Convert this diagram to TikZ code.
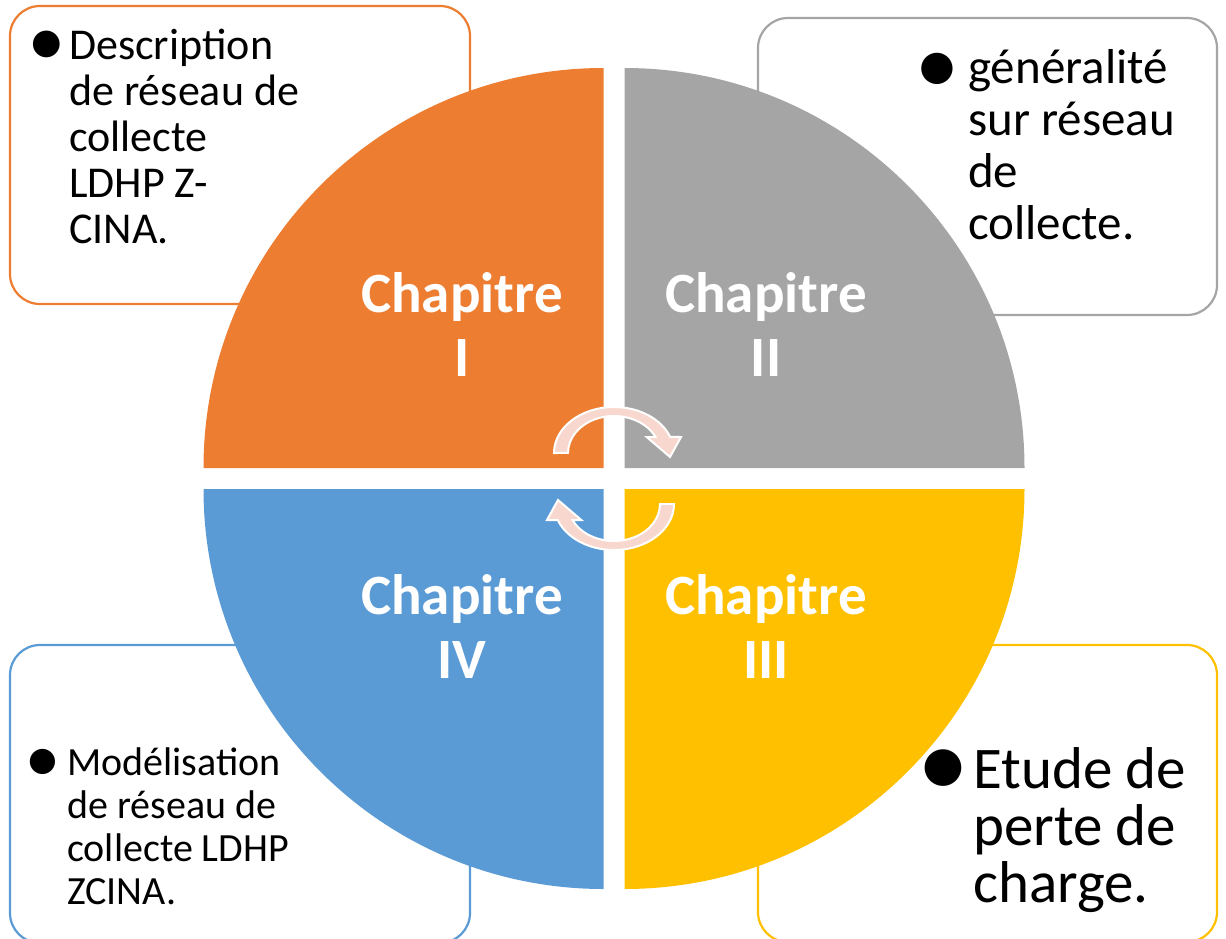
\documentclass[tikz,border=0pt]{standalone}
\usepackage{fontspec}
\setmainfont{Carlito}
\newfontfamily\symfont{DejaVu Sans}

\definecolor{quadorange}{HTML}{ED7D31}
\definecolor{quadgray}{HTML}{A5A5A5}
\definecolor{quadyellow}{HTML}{FFC000}
\definecolor{quadblue}{HTML}{5B9BD5}
\definecolor{arrowpink}{HTML}{F8D8CE}

% stacked lines, baseline of the node = baseline of the first line
\newcommand\boxlines[1]{\vtop{\lineskiplimit=-100pt\relax\halign{##\hfil\cr#1\crcr}}}
\newcommand\chaplines[1]{\vtop{\lineskiplimit=-100pt\relax\halign{\hfil##\hfil\cr#1\crcr}}}

\begin{document}
\begin{tikzpicture}[x=1pt,y=-1pt,
  textbox/.style={draw=#1, line width=2.2pt, fill=white, rounded corners=30pt},
  quadrant/.style={fill=#1},
  arrowstyle/.style={fill=arrowpink, draw=white, line width=2pt, line join=miter},
  chaplabel/.style={text=white, inner sep=0pt, anchor=base,
    font=\bfseries\fontsize{57}{64}\selectfont},
  boxtext/.style={text=black, inner sep=0pt, anchor=base west},
  bullet/.style={text=black, inner sep=0pt, anchor=center},
  cyclearrow/.pic={
    \filldraw[arrowstyle] (-60,0)
      arc[start angle=180, end angle=339.6, x radius=60, y radius=46]
      -- (67,-16) -- (56,4) -- (32.7,-16) -- (41.5,-16)
      arc[start angle=334.4, end angle=180, x radius=46, y radius=37]
      -- cycle;
  }]
\useasboundingbox (0,0) rectangle (1226,939);
\clip (0,0) rectangle (1226,939);

% corner text boxes
\draw[textbox=quadorange] (10,6) rectangle (470,304);
\draw[textbox=quadgray] (758,18) rectangle (1217,315);
\draw[textbox=quadyellow] (758,645) rectangle (1217,942);
\draw[textbox=quadblue] (10,645) rectangle (470,943);

% the four quarter discs
\fill[quadrant=quadorange] (603.5,468) -- ++(-400,0)
  arc[start angle=180, end angle=270, radius=400] -- cycle;
\fill[quadrant=quadgray] (624.5,468) -- ++(0,-400)
  arc[start angle=270, end angle=360, radius=400] -- cycle;
\fill[quadrant=quadyellow] (624.5,489) -- ++(400,0)
  arc[start angle=0, end angle=90, radius=400] -- cycle;
\fill[quadrant=quadblue] (603.5,489) -- ++(0,400)
  arc[start angle=90, end angle=180, radius=400] -- cycle;

% cycle arrows in the middle
\pic (toparrow) at (614,453) {cyclearrow};
\pic[rotate=180] (bottomarrow) at (614,504) {cyclearrow};

% chapter labels
\node[chaplabel] (ch1) at (462,312) {\chaplines{Chapitre\cr I}};
\node[chaplabel] (ch2) at (766,312) {\chaplines{Chapitre\cr II}};
\node[chaplabel] (ch3) at (766,614) {\chaplines{Chapitre\cr III}};
\node[chaplabel] (ch4) at (462,614) {\chaplines{Chapitre\cr IV}};

% box contents
\node[bullet, font=\symfont\fontsize{35}{35}\selectfont] (b1) at (46.5,44) {●};
\node[boxtext, font=\fontsize{44}{46}\selectfont] (t1) at (69,60)
  {\boxlines{Description\cr de réseau de\cr collecte\cr LDHP Z-\cr CINA.}};

\node[bullet, font=\symfont\fontsize{41}{41}\selectfont] (b2) at (937.5,68.5) {●};
\node[boxtext, font=\fontsize{49}{52}\selectfont] (t2) at (968,84)
  {\boxlines{généralité\cr sur réseau\cr de\cr collecte.}};

\node[bullet, font=\symfont\fontsize{48}{48}\selectfont] (b3) at (943.5,768) {●};
\node[boxtext, font=\fontsize{59}{57}\selectfont] (t3) at (973,788)
  {\boxlines{Etude de\cr perte de\cr charge.}};

\node[bullet, font=\symfont\fontsize{33}{33}\selectfont] (b4) at (43,761.5) {●};
\node[boxtext, font=\fontsize{40}{43}\selectfont] (t4) at (67,775)
  {\boxlines{Modélisation\cr de réseau de\cr collecte LDHP\cr ZCINA.}};
\end{tikzpicture}
\end{document}
